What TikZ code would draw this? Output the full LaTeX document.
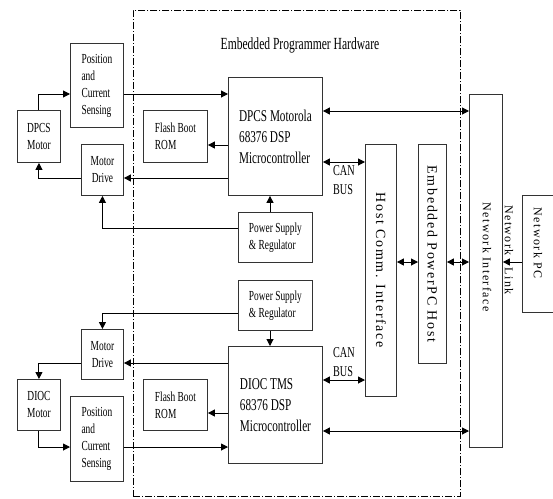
\documentclass[tikz,border=0pt]{standalone}
\usepackage{fontspec}
\setmainfont{Liberation Serif}[FakeStretch=0.68]
\newfontfamily\vertfont{Liberation Serif}[LetterSpace=12]
\usetikzlibrary{positioning,arrows.meta}

\begin{document}
\begin{tikzpicture}[
  x=1pt, y=-1pt,
  font=\fontsize{13.8}{17}\selectfont,
  partbox/.style = {draw=black!80, line width=0.9pt, align=left, inner sep=0pt, anchor=north west},
  mcubox/.style = {partbox, font=\fontsize{16.5}{21}\selectfont},
  tallbox/.style = {draw=black!80, line width=0.9pt, inner sep=0pt, anchor=north west},
  vtext/.style = {rotate=-90, font=\vertfont\fontsize{14}{16}\selectfont},
  nettext/.style = {rotate=-90, font=\vertfont\fontsize{12}{14}\selectfont},
  buslabel/.style = {align=left, font=\fontsize{15}{19}\selectfont, inner sep=3pt},
  flow/.style = {-{Triangle[length=7pt,width=7pt]}, line width=1pt},
  bus/.style = {{Triangle[length=7pt,width=7pt]}-{Triangle[length=7pt,width=7pt]}, line width=1pt},
  hwframe/.style = {draw, line width=0.8pt, dash pattern=on 7pt off 2pt on 1pt off 2pt,
                    inner sep=0pt, anchor=north west},
]
\useasboundingbox (0,0) rectangle (553,498);

% ---------- programmer hardware boundary ----------
\node[hwframe, minimum width=327pt, minimum height=486pt] (hw) at (133,10) {};
\node[font=\fontsize{17}{20}\selectfont] (title) at (300,45) {Embedded Programmer Hardware};

% ---------- DPCS channel ----------
\node[mcubox, minimum width=94pt, minimum height=118pt] (dpcs) at (228,77) {DPCS Motorola\\ 68376 DSP\\ Microcontroller};
\node[partbox, minimum width=64pt, minimum height=52pt] (flash1) at (143,110) {Flash Boot\\ ROM};
\node[partbox, minimum width=53pt, minimum height=84pt] (sense1) at (70,43) {Position\\ and\\ Current\\ Sensing};
\node[partbox, align=center, minimum width=43pt, minimum height=52pt] (motor1) at (17,110) {DPCS\\ Motor};
\node[partbox, align=center, minimum width=42pt, minimum height=51pt] (drive1) at (81,144) {Motor\\ Drive};
\node[partbox, minimum width=74pt, minimum height=50pt] (power1) at (238,212) {Power Supply\\ \& Regulator};

% ---------- DIOC channel ----------
\node[partbox, minimum width=74pt, minimum height=50pt, below=17pt of power1] (power2) {Power Supply\\ \& Regulator};
\node[mcubox, minimum width=94pt, minimum height=117pt] (dioc) at (228,346) {DIOC TMS\\ 68376 DSP\\ Microcontroller};
\node[partbox, minimum width=64pt, minimum height=51pt] (flash2) at (143,379) {Flash Boot\\ ROM};
\node[partbox, minimum width=53pt, minimum height=85pt] (sense2) at (70,396) {Position\\ and\\ Current\\ Sensing};
\node[partbox, align=center, minimum width=43pt, minimum height=51pt] (motor2) at (17,379) {DIOC\\ Motor};
\node[partbox, align=center, minimum width=42pt, minimum height=50pt] (drive2) at (81,329) {Motor\\ Drive};

% ---------- host and network ----------
\node[tallbox, minimum width=31pt, minimum height=252pt, label={[vtext]center:Host Comm. Interface}] (host) at (365,144) {};
\node[tallbox, minimum width=28pt, minimum height=219pt, label={[vtext]center:Embedded PowerPC Host}] (ppc) at (418,144) {};
\node[tallbox, minimum width=33pt, minimum height=353pt] (netif) at (469,94) {};
\node[nettext] (netiflbl) at (487,257) {Network Interface};
\node[tallbox, minimum width=34pt, minimum height=117pt] (netpc) at (522,195) {};
\node[nettext] (netpclbl) at (538,243) {Network PC};

% ---------- DPCS flows ----------
\coordinate (s1) at (0,94);
\coordinate (r1) at (0,145);
\coordinate (d1) at (0,178);
\coordinate (p1) at (0,228);
\coordinate (n1) at (0,111);
\coordinate (c1) at (0,162);
\coordinate (v1) at (270,0);
\draw[flow] (motor1.north) |- (s1 -| sense1.west);
\draw[flow] (s1 -| sense1.east) -- (s1 -| dpcs.west);
\draw[flow] (r1 -| dpcs.west) -- (r1 -| flash1.east);
\draw[flow] (d1 -| dpcs.west) -- (d1 -| drive1.east);
\draw[flow] (d1 -| drive1.west) -| (motor1.south);
\draw[flow] (p1 -| power1.west) -| (drive1.south);
\draw[flow] (v1 |- power1.north) -- (v1 |- dpcs.south);
\draw[bus] (n1 -| dpcs.east) -- (n1 -| netif.west);
\draw[bus] (c1 -| dpcs.east) -- node[buslabel, below] (can1) {CAN\\ BUS} (c1 -| host.west);

% ---------- host links ----------
\coordinate (h1) at (0,262);
\draw[bus] (h1 -| host.east) -- (h1 -| ppc.west);
\draw[bus] (h1 -| ppc.east) -- (h1 -| netif.west);
\draw[flow] (h1 -| netpc.west) -- (h1 -| netif.east);
\node[nettext] (link) at (509,250) {Network\hspace{12pt}Link};

% ---------- DIOC flows ----------
\coordinate (p2) at (0,313);
\coordinate (d2) at (0,363);
\coordinate (c2) at (0,380);
\coordinate (r2) at (0,413);
\coordinate (n2) at (0,431);
\coordinate (s2) at (0,447);
\draw[flow] (p2 -| power2.west) -| (drive2.north);
\draw[flow] (v1 |- power2.south) -- (v1 |- dioc.north);
\draw[flow] (d2 -| dioc.west) -- (d2 -| drive2.east);
\draw[flow] (d2 -| drive2.west) -| (motor2.north);
\draw[flow] (r2 -| dioc.west) -- (r2 -| flash2.east);
\draw[flow] (motor2.south) |- (s2 -| sense2.west);
\draw[flow] (s2 -| sense2.east) -- (s2 -| dioc.west);
\draw[bus] (c2 -| dioc.east) -- node[buslabel, above] (can2) {CAN\\ BUS} (c2 -| host.west);
\draw[bus] (n2 -| dioc.east) -- (n2 -| netif.west);

\end{tikzpicture}
\end{document}
